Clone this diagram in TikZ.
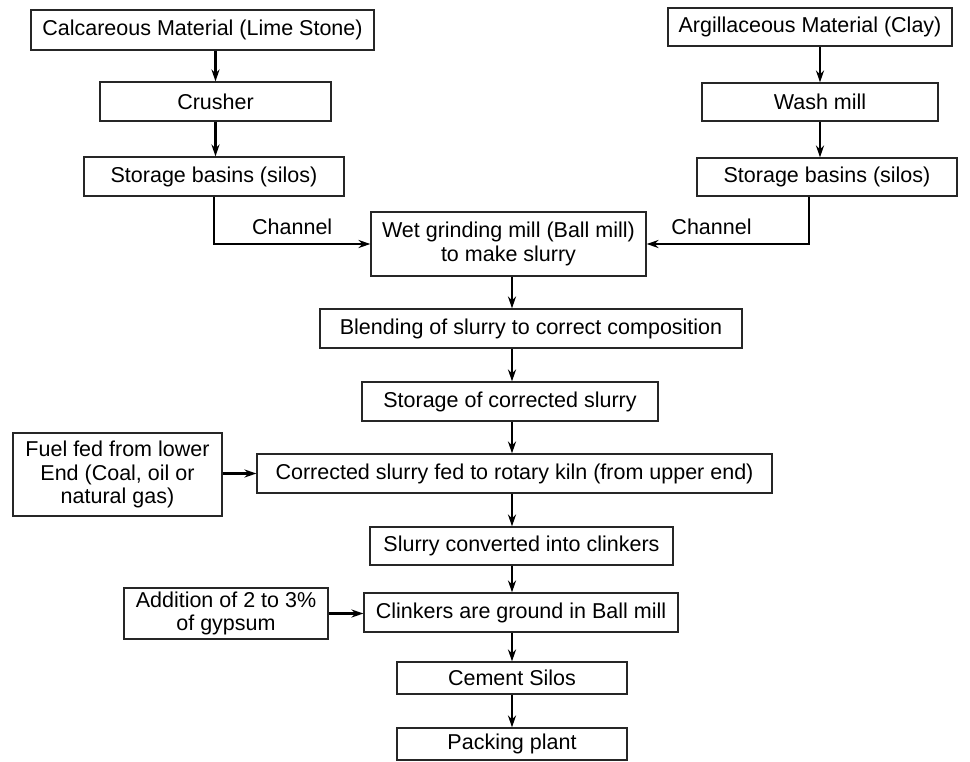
\documentclass[tikz,border=0pt]{standalone}
\usepackage{fontspec}
\setmainfont{Liberation Sans}
\usetikzlibrary{arrows.meta}
\tikzset{
	box/.style={draw=black!85, line width=1.1pt, inner sep=0pt, align=center, font=\fontsize{21.5}{23.5}\selectfont},
	flow/.style={line width=2.2pt, -{Stealth[length=12pt,width=8pt]}},
	tag/.style={font=\fontsize{21.5}{23.5}\selectfont, inner sep=0pt}
}

\begin{document}
\begin{tikzpicture}[x=1pt,y=-1pt]
			%%%%% START %%%%%
			\useasboundingbox (0,0) rectangle (970,761);
			\coordinate (axis) at (512,0);
			
			\node[box, minimum width=343, minimum height=40] (lime) at (202.5,30) {Calcareous Material (Lime Stone)};
			\node[box, minimum width=231, minimum height=39] (crusher) at (215.5,101.5) {Crusher};
			\node[box, minimum width=260, minimum height=39] (storL) at (214,176.5) {Storage basins (silos)};
			
			\node[box, minimum width=284, minimum height=38] (clay) at (810,27) {Argillaceous Material (Clay)};
			\node[box, minimum width=236, minimum height=38] (wash) at (820,102) {Wash mill};
			\node[box, minimum width=260, minimum height=38] (storR) at (827,177) {Storage basins (silos)};
			
			\node[box, minimum width=275, minimum height=64] (wet) at (508.5,244) {Wet grinding mill (Ball mill)\\to make slurry};
			\node[box, minimum width=422, minimum height=39] (blend) at (531,328.5) {Blending of slurry to correct composition};
			\node[box, minimum width=296, minimum height=39] (storC) at (510,401.5) {Storage of corrected slurry};
			\node[box, minimum width=209, minimum height=83] (fuel) at (117.5,474.5) {Fuel fed from lower\\End (Coal, oil or\\natural gas)};
			\node[box, minimum width=515, minimum height=39] (kiln) at (514.5,473.5) {Corrected slurry fed to rotary kiln (from upper end)};
			\node[box, minimum width=303, minimum height=38] (clink) at (521.5,546) {Slurry converted into clinkers};
			\node[box, minimum width=204, minimum height=51] (gyp) at (226,613.5) {Addition of 2 to 3\%\\of gypsum};
			\node[box, minimum width=314, minimum height=39] (ground) at (521,612.5) {Clinkers are ground in Ball mill};
			\node[box, minimum width=230, minimum height=32] (silos) at (512,678) {Cement Silos};
			\node[box, minimum width=230, minimum height=32] (pack) at (512,744) {Packing plant};
			
			% raw material lines
			\draw[flow] (crusher.north |- lime.south) -- (crusher.north);
			\draw[flow] (crusher.south) -- (crusher.south |- storL.north);
			\draw[flow] (wash.north |- clay.south) -- (wash.north);
			\draw[flow] (wash.south) -- (wash.south |- storR.north);
			\draw[flow] (storL.south) |- node[tag, pos=0.75, above=8pt] (chL) {Channel} (wet.west);
			\draw[flow] ([xshift=-18pt]storR.south) |- node[tag, pos=0.8, above=8pt] (chR) {Channel} (wet.east);
			
			% main line
			\draw[flow] (wet.south -| axis) -- (blend.north -| axis);
			\draw[flow] (blend.south -| axis) -- (storC.north -| axis);
			\draw[flow] (storC.south -| axis) -- (kiln.north -| axis);
			\draw[flow] (kiln.south -| axis) -- (clink.north -| axis);
			\draw[flow] (clink.south -| axis) -- (ground.north -| axis);
			\draw[flow] (ground.south -| axis) -- (silos.north -| axis);
			\draw[flow] (silos.south -| axis) -- (pack.north -| axis);
			
			% side feeds
			\draw[flow] (fuel.east |- kiln.west) -- (kiln.west);
			\draw[flow] (gyp.east) -- (gyp.east -| ground.west);
			%%%%% END %%%%%
\end{tikzpicture}
\end{document}
